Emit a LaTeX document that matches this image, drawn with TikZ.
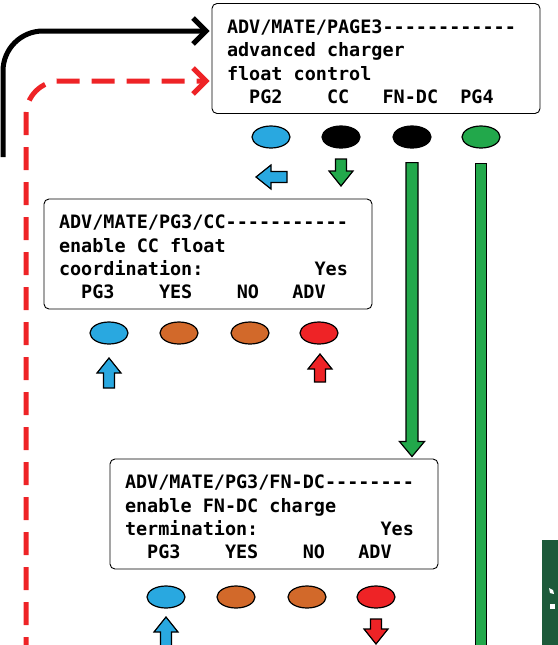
\documentclass[tikz,border=0pt]{standalone}
\usepackage{fontspec}
\setmonofont{DejaVu Sans Mono}
\usepackage{tikz}
\usetikzlibrary{arrows.meta}
\usetikzlibrary{shapes.geometric}
\usetikzlibrary{calc}

\definecolor{btnblue}{HTML}{29A8E0}
\definecolor{btnorange}{HTML}{D2692A}
\definecolor{btnred}{HTML}{EE2326}
\definecolor{btngreen}{HTML}{22A84B}
\definecolor{panelgreen}{HTML}{1D5A3A}

\newcommand\lcd{\ttfamily\bfseries\fontsize{18.46}{23.4}\selectfont}
% one character cell of the screen
\newcommand\lcdgap{\hphantom{X}}
\newcommand\lcdtop{\rule{0pt}{20pt}}
% fat arrow: colour, tail, angle, length
\newcommand\fatarrow[4]{%
	\filldraw[fat, fill=#1, shift={(#2)}, rotate=#3] (0,-5.5) -- (#4-15,-5.5) -- (#4-15,-12) -- (#4,0) -- (#4-15,12) -- (#4-15,5.5) -- (0,5.5) -- cycle;}

\begin{document}
\begin{tikzpicture}[x=1pt,y=-1pt,
	lcdbox/.style={draw, rounded corners=5pt, line width=0.9pt, minimum width=328pt, minimum height=110pt, text width=298pt, inner xsep=15pt, inner ysep=0pt, align=left, font=\lcd},
	btn/.style={ellipse, draw, line width=1.2pt, minimum width=38pt, minimum height=22pt, inner sep=0pt},
	fat/.style={draw, line width=1.2pt, line join=miter},
	navline/.style={line width=5pt, rounded corners=40pt, -{Straight Barb[length=13pt,width=26pt]}}]
	\useasboundingbox (0,0) rectangle (557,645);

	% screens
	\node[lcdbox] (pagebox) at (376,58.5) {\lcdtop ADV/MATE/PAGE3------------\\advanced\lcdgap charger\\float\lcdgap control\\\lcdgap\lcdgap PG2\lcdgap\lcdgap\lcdgap\lcdgap CC\lcdgap\lcdgap\lcdgap FN-DC\lcdgap\lcdgap PG4};
	\node[lcdbox] (ccbox) at (208,254) {\lcdtop ADV/MATE/PG3/CC-----------\\enable\lcdgap CC\lcdgap float\\coordination:\lcdgap\lcdgap\lcdgap\lcdgap\lcdgap\lcdgap\lcdgap\lcdgap\lcdgap\lcdgap Yes\\\lcdgap\lcdgap PG3\lcdgap\lcdgap\lcdgap\lcdgap YES\lcdgap\lcdgap\lcdgap\lcdgap NO\lcdgap\lcdgap\lcdgap ADV};
	\node[lcdbox] (fnbox) at (274,514) {\lcdtop ADV/MATE/PG3/FN-DC--------\\enable\lcdgap FN-DC\lcdgap charge\\termination:\lcdgap\lcdgap\lcdgap\lcdgap\lcdgap\lcdgap\lcdgap\lcdgap\lcdgap\lcdgap\lcdgap Yes\\\lcdgap\lcdgap PG3\lcdgap\lcdgap\lcdgap\lcdgap YES\lcdgap\lcdgap\lcdgap\lcdgap NO\lcdgap\lcdgap\lcdgap ADV};

	% buttons
	\node[btn, fill=btnblue] (pg2btn) at (271,137) {};
	\node[btn, fill=black] (ccbtn) at (341,137) {};
	\node[btn, fill=black] (fnbtn) at (412,137) {};
	\node[btn, fill=btngreen] (pg4btn) at (481,137) {};

	\node[btn, fill=btnblue] (pg3btna) at (109,333) {};
	\node[btn, fill=btnorange] (yesbtna) at (179,333) {};
	\node[btn, fill=btnorange] (nobtna) at (250,333) {};
	\node[btn, fill=btnred] (advbtna) at (319,333) {};

	\node[btn, fill=btnblue] (pg3btnb) at (166,597) {};
	\node[btn, fill=btnorange] (yesbtnb) at (236,597) {};
	\node[btn, fill=btnorange] (nobtnb) at (307,597) {};
	\node[btn, fill=btnred] (advbtnb) at (376,597) {};

	% small arrows
	\fatarrow{btnblue}{287,177}{180}{31}
	\fatarrow{btngreen}{341,159}{-90}{27}
	\fatarrow{btnblue}{109,388}{90}{30}
	\fatarrow{btnred}{320,382}{90}{28}
	\fatarrow{btnblue}{166,660}{90}{43}
	\fatarrow{btnred}{376,619}{-90}{25}

	% FN-DC to its screen
	\filldraw[fat, fill=btngreen] let \p1=($(fnbtn.south)+(0,14)$), \p2=($(fnbtn.south |- fnbox.north)+(0,-2)$) in
		(\x1-6pt,\y1) -- (\x1-6pt,\y2+15pt) -- (\x1-12.5pt,\y2+15pt) -- (\x2,\y2) -- (\x1+12.5pt,\y2+15pt) -- (\x1+6pt,\y2+15pt) -- (\x1+6pt,\y1) -- cycle;
	% PG4 runs on down
	\coordinate (pg4end) at (481,660);
	\filldraw[fat, fill=btngreen] ($(pg4btn.south)+(-5.5,15)$) rectangle ($(pg4end)+(5.5,0)$);

	% ways into PAGE3
	\coordinate (blkstart) at (3,157);
	\coordinate (redstart) at (26,660);
	\draw[navline] (blkstart) |- ($(pagebox.west)+(-2,-27.5)$);
	\draw[navline, btnred, dash pattern=on 23pt off 12pt, rounded corners=34pt] (redstart) |- ($(pagebox.west)+(-2,22.5)$);

	% edge of the next panel
	\fill[panelgreen] (542,540) rectangle (560,650);
	\fill[white] (549,588) -- (553,590) -- (554,594) -- (550,593) -- cycle;
	\fill[white] (550,604) rectangle (555,609);
\end{tikzpicture}
\end{document}
